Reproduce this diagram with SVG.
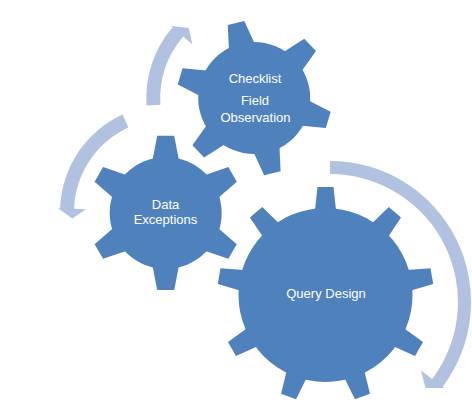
<svg xmlns="http://www.w3.org/2000/svg" xmlns:xlink="http://www.w3.org/1999/xlink" width="472" height="409" viewBox="0 0 472 409">
<style>
.gear{fill:#4F81BD}
.arrow{fill:#B0C2DF}
.lbl{font-family:"Liberation Sans",Arial,sans-serif;font-size:13px;fill:#FFFFFF;text-anchor:middle}
</style>
<defs>
<polygon id="t6" points="-8.5,-77.2 8.5,-77.2 13,-54 13,-40 -13,-40 -13,-54"/>
<polygon id="t9" points="-8,-108 8,-108 10.5,-85 10.5,-70 -10.5,-70 -10.5,-85"/>
</defs>
<rect width="472" height="409" fill="#FFFFFF"/>
<g id="connectors">
<path class="arrow" d="M330,161 A141,141 0 0 1 442.6,386.9 L444.2,388.1 L425.5,388 L421,370.6 L432.2,379 A128,128 0 0 0 330,174 Z"/>
<path class="arrow" d="M146.5,105.6 A108,108 0 0 1 172.7,27.2 L171.2,25.9 L188.7,27.9 L192.3,44.3 L183.3,36.4 A94,94 0 0 0 160.4,104.7 Z"/>
<path class="arrow" d="M122.6,114.6 A107,107 0 0 0 60.1,208.3 L58.1,208.2 L72.2,218.6 L86,209.2 L74.1,208.8 A93,93 0 0 1 128.4,127.4 Z"/>
</g>
<g id="gear-data-exceptions" class="gear">
<circle cx="165.7" cy="212.9" r="56"/>
<use xlink:href="#t6" transform="translate(165.7,212.9) rotate(0)"/>
<use xlink:href="#t6" transform="translate(165.7,212.9) rotate(60)"/>
<use xlink:href="#t6" transform="translate(165.7,212.9) rotate(120)"/>
<use xlink:href="#t6" transform="translate(165.7,212.9) rotate(180)"/>
<use xlink:href="#t6" transform="translate(165.7,212.9) rotate(240)"/>
<use xlink:href="#t6" transform="translate(165.7,212.9) rotate(300)"/>
<text class="lbl" x="165.5" y="209">Data</text>
<text class="lbl" x="165.5" y="224">Exceptions</text>
</g>
<g id="gear-checklist" class="gear">
<circle cx="254.2" cy="98.1" r="56"/>
<use xlink:href="#t6" transform="translate(254.2,98.1) rotate(-13.6)"/>
<use xlink:href="#t6" transform="translate(254.2,98.1) rotate(46.4)"/>
<use xlink:href="#t6" transform="translate(254.2,98.1) rotate(106.4)"/>
<use xlink:href="#t6" transform="translate(254.2,98.1) rotate(166.4)"/>
<use xlink:href="#t6" transform="translate(254.2,98.1) rotate(226.4)"/>
<use xlink:href="#t6" transform="translate(254.2,98.1) rotate(286.4)"/>
<text class="lbl" x="255" y="83">Checklist</text>
<text class="lbl" x="255" y="105">Field</text>
<text class="lbl" x="255.5" y="121.7">Observation</text>
</g>
<g id="gear-query-design" class="gear">
<circle cx="325.5" cy="295" r="87"/>
<use xlink:href="#t9" transform="translate(325.5,295) rotate(0)"/>
<use xlink:href="#t9" transform="translate(325.5,295) rotate(40)"/>
<use xlink:href="#t9" transform="translate(325.5,295) rotate(80)"/>
<use xlink:href="#t9" transform="translate(325.5,295) rotate(120)"/>
<use xlink:href="#t9" transform="translate(325.5,295) rotate(160)"/>
<use xlink:href="#t9" transform="translate(325.5,295) rotate(200)"/>
<use xlink:href="#t9" transform="translate(325.5,295) rotate(240)"/>
<use xlink:href="#t9" transform="translate(325.5,295) rotate(280)"/>
<use xlink:href="#t9" transform="translate(325.5,295) rotate(320)"/>
<text class="lbl" x="326" y="298">Query Design</text>
</g>
</svg>
